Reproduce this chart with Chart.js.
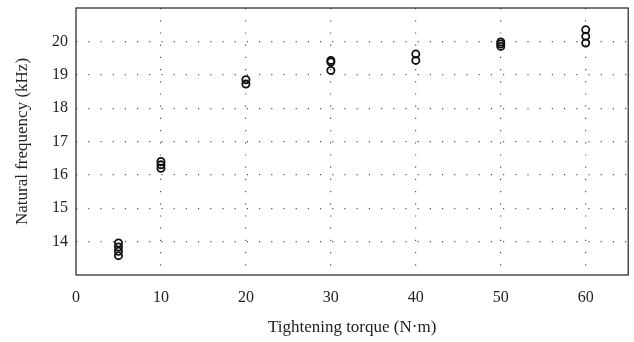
<!DOCTYPE html>
<html>
<head>
<meta charset="utf-8">
<script src="https://cdn.jsdelivr.net/npm/chart.js@4"></script>
<style>
  html, body { margin: 0; padding: 0; background: #fff; }
  #wrap { width: 634px; height: 342px; }
</style>
</head>
<body>
<div id="wrap"><canvas id="freqChart"></canvas></div>
<script>
// tightening torque (N·m) and measured natural frequency (kHz)
const torque5 = [13.96, 13.84, 13.71, 13.58];
const torque10 = [16.4, 16.3, 16.2];
const torque20 = [18.85, 18.72];
const torque30 = [19.43, 19.38, 19.13];
const torque40 = [19.62, 19.43];
const torque50 = [19.98, 19.92, 19.85];
const torque60 = [20.35, 20.15, 19.95];
const torques = [5, 10, 20, 30, 40, 50, 60];
const groups = [torque5, torque10, torque20, torque30, torque40, torque50, torque60];

const points = [];
groups.forEach((vals, i) => {
  vals.forEach(v => points.push({ x: torques[i], y: v }));
});

const frame = {
  id: "frame",
  afterDraw(chart) {
    const { ctx, chartArea: a } = chart;
    ctx.save();
    ctx.strokeStyle = "#222";
    ctx.lineWidth = 1.2;
    ctx.strokeRect(a.left, a.top, a.right - a.left, a.bottom - a.top);
    ctx.restore();
  }
};

const serif = "'Liberation Serif', 'DejaVu Serif', serif";
const dotted = (ctx) => (ctx.tick && (ctx.tick.value === 0 || ctx.tick.value === 65 || ctx.tick.value === 21 || ctx.tick.value === 13)) ? "rgba(0,0,0,0)" : "#555";

new Chart(document.getElementById("freqChart").getContext("2d"), {
  type: "scatter",
  data: {
    datasets: [{
      label: "Natural frequency",
      data: points,
      borderColor: "#111",
      backgroundColor: "rgba(0,0,0,0)",
      borderWidth: 1.8,
      pointRadius: 3.6,
      pointStyle: "circle"
    }]
  },
  options: {
    responsive: true,
    maintainAspectRatio: false,
    animation: false,
    layout: { padding: { left: 8, right: 4, top: 8, bottom: 0 } },
    plugins: { legend: { display: false }, tooltip: { enabled: false } },
    scales: {
      x: {
        type: "linear",
        min: 0,
        max: 65,
        ticks: {
          stepSize: 10,
          color: "#222",
          font: { family: serif, size: 16 },
          padding: 13,
          callback: v => (v === 65) ? "" : v
        },
        grid: { color: dotted, lineWidth: 1.2, drawTicks: false },
        border: { display: false, dash: [1.2, 11] },
        title: { display: true, text: "Tightening torque (N·m)", color: "#222", font: { family: serif, size: 17 }, padding: { top: 4 } },
        afterFit(s) { s.height = 67; s.paddingLeft = 0; s.paddingRight = 0; }
      },
      y: {
        min: 13,
        max: 21,
        ticks: {
          stepSize: 1,
          color: "#222",
          font: { family: serif, size: 16 },
          padding: 8,
          callback: v => (v === 13 || v === 21) ? "" : v
        },
        grid: { color: dotted, lineWidth: 1.2, drawTicks: false },
        border: { display: false, dash: [1.2, 11] },
        title: { display: true, text: "Natural frequency (kHz)", color: "#222", font: { family: serif, size: 17 }, padding: { bottom: 4 } },
        afterFit(s) { s.width = 68; s.paddingTop = 0; s.paddingBottom = 0; }
      }
    }
  },
  plugins: [frame]
});
</script>
</body>
</html>
